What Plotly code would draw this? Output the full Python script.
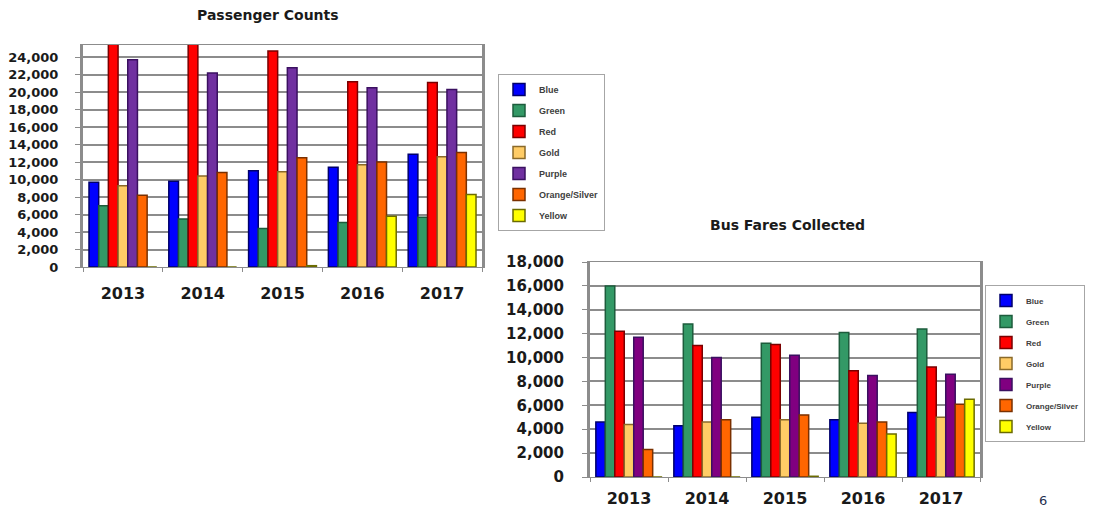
import plotly.graph_objects as go

# Data
years = ["2013", "2014", "2015", "2016", "2017"]
lines = ["Blue", "Green", "Red", "Gold", "Purple", "Orange/Silver", "Yellow"]

# Passenger Counts (red 2013/2014 run off the top of the chart)
pass_blue = [9700, 9800, 11000, 11400, 12900]
pass_green = [7000, 5500, 4400, 5100, 5700]
pass_red = [25600, 25600, 24700, 21200, 21100]
pass_gold = [9300, 10400, 10900, 11700, 12600]
pass_purple = [23700, 22200, 22800, 20500, 20300]
pass_orange = [8200, 10800, 12500, 12000, 13100]
pass_yellow = [0, 0, 150, 5800, 8300]

# Bus Fares Collected
fare_blue = [4600, 4300, 5000, 4800, 5400]
fare_green = [16000, 12800, 11200, 12100, 12400]
fare_red = [12200, 11000, 11100, 8900, 9200]
fare_gold = [4400, 4600, 4800, 4500, 5000]
fare_purple = [11700, 10000, 10200, 8500, 8600]
fare_orange = [2300, 4800, 5200, 4600, 6100]
fare_yellow = [0, 0, 60, 3600, 6500]

fills_left = ["#0000FF", "#339966", "#FF0000", "#FFCC66", "#7030A0", "#FF6600", "#FFFF00"]
fills_right = ["#0000FF", "#339966", "#FF0000", "#FFCC66", "#800080", "#FF6600", "#FFFF00"]
edges = ["#00006b", "#1d5c3c", "#7a0000", "#8a6a2a", "#3a1060", "#7a3000", "#6b6b00"]

W, H = 1099, 513
OFF = 8  # page body margin around the plot div


def px(x):
    return (x - OFF) / W


def py(y):
    return 1 - (y - OFF) / H


passenger = [pass_blue, pass_green, pass_red, pass_gold, pass_purple, pass_orange, pass_yellow]
fares = [fare_blue, fare_green, fare_red, fare_gold, fare_purple, fare_orange, fare_yellow]

fig = go.Figure()
for i, name in enumerate(lines):
    fig.add_trace(go.Bar(
        x=years, y=passenger[i], name=name,
        marker=dict(color=fills_left[i], line=dict(color=edges[i], width=1.5)),
        xaxis="x", yaxis="y", legend="legend", legendgroup="p" + str(i)))
for i, name in enumerate(lines):
    fig.add_trace(go.Bar(
        x=years, y=fares[i], name=name,
        marker=dict(color=fills_right[i], line=dict(color=edges[i], width=1.5)),
        xaxis="x2", yaxis="y2", legend="legend2", legendgroup="f" + str(i)))

grid = "#8c8c8c"
tickfont_y = dict(family="DejaVu Sans", size=13, color="#1a1a1a", weight="bold")
tickfont_x = dict(family="DejaVu Sans", size=16, color="#1a1a1a", weight="bold")

xcommon = dict(type="category", showgrid=False, showline=True, linecolor=grid, linewidth=1,
               mirror=True, ticks="outside", tickson="boundaries", ticklen=4, tickcolor=grid,
               tickfont=tickfont_x, automargin=False)
ycommon = dict(showgrid=True, gridcolor=grid, gridwidth=2, showline=True, linecolor=grid,
               linewidth=3, mirror=True, ticks="outside", ticklen=5, tickcolor=grid,
               tickformat=",", automargin=False, zeroline=False)

legend_common = dict(bgcolor="white", bordercolor="#a6a6a6", borderwidth=1,
                     xanchor="left", yanchor="top", tracegroupgap=2, itemwidth=30)
legend_font = dict(family="Liberation Sans", size=9, color="#404040", weight="bold")

title_font = dict(family="DejaVu Sans", size=14, color="#1a1a1a", weight="bold")

fig.update_layout(
    width=W, height=H,
    margin=dict(l=0, r=0, t=0, b=0),
    paper_bgcolor="white", plot_bgcolor="white",
    barmode="group", bargap=0.15, bargroupgap=0,
    xaxis=dict(domain=[px(83), px(482)], anchor="y", ticklabelstandoff=12, **xcommon),
    yaxis=dict(domain=[py(267), py(45)], anchor="x", range=[0, 25400], dtick=2000,
               tickfont=tickfont_y, ticklabelstandoff=14, **ycommon),
    xaxis2=dict(domain=[px(590), px(980)], anchor="y2", ticklabelstandoff=7, **xcommon),
    yaxis2=dict(domain=[py(477), py(262)], anchor="x2", range=[0, 18000], dtick=2000,
                tickfont=dict(tickfont_y, size=15), ticklabelstandoff=15, **ycommon),
    legend=dict(x=px(498), y=py(74), font=legend_font, **legend_common),
    legend2=dict(x=px(985), y=py(285), font=dict(legend_font, size=8), **legend_common),
    showlegend=True,
    annotations=[
        dict(text="Passenger Counts", x=px(268), y=py(15), xref="paper", yref="paper",
             xanchor="center", yanchor="middle", showarrow=False, font=title_font),
        dict(text="Bus Fares Collected", x=px(787), y=py(225), xref="paper", yref="paper",
             xanchor="center", yanchor="middle", showarrow=False, font=title_font),
        dict(text="6", x=px(1043), y=py(500), xref="paper", yref="paper",
             xanchor="center", yanchor="middle", showarrow=False,
             font=dict(family="DejaVu Sans", size=13, color="#1f2f4f")),
    ],
)

fig.write_html("out.html")
